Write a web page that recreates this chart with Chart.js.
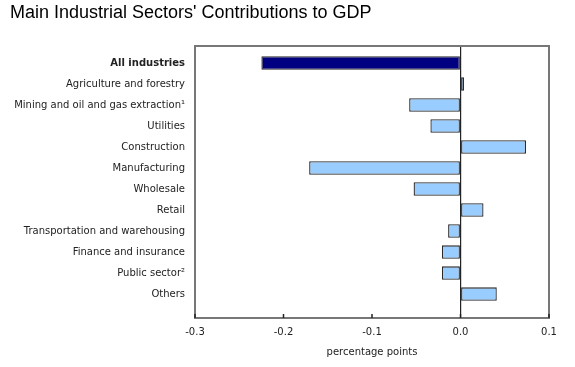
<!DOCTYPE html>
<html>
<head>
<meta charset="utf-8">
<script src="https://cdn.jsdelivr.net/npm/chart.js@4.4.1/dist/chart.umd.min.js"></script>
<style>
  html, body { margin: 0; padding: 0; background: #fff; }
  #wrap { width: 575px; height: 367px; }
</style>
</head>
<body>
<div id="wrap"><canvas id="gdpChart"></canvas></div>
<script>
const sectors = [
  "All industries",
  "Agriculture and forestry",
  "Mining and oil and gas extraction\u00B9",
  "Utilities",
  "Construction",
  "Manufacturing",
  "Wholesale",
  "Retail",
  "Transportation and warehousing",
  "Finance and insurance",
  "Public sector\u00B2",
  "Others"
];
const contributions = [-0.225, 0.004, -0.058, -0.034, 0.074, -0.171, -0.053, 0.026, -0.014, -0.021, -0.021, 0.041];
const xTicks = [-0.3, -0.2, -0.1, 0.0, 0.1];

const labelFont = "'DejaVu Sans', Verdana, sans-serif";

// frame round the plot + small inward tick marks on the bottom axis
const framePlugin = {
  id: "frame",
  afterDraw(chart) {
    const { ctx, chartArea: a } = chart;
    const x = chart.scales.x;
    ctx.save();
    ctx.strokeStyle = "#777";
    ctx.lineWidth = 2;
    ctx.strokeRect(a.left, a.top, a.right - a.left, a.bottom - a.top);
    ctx.strokeStyle = "#222";
    ctx.lineWidth = 1.5;
    xTicks.forEach(v => {
      const px = x.getPixelForValue(v);
      ctx.beginPath();
      ctx.moveTo(px, a.bottom);
      ctx.lineTo(px, a.bottom - 4);
      ctx.stroke();
    });
    ctx.restore();
  }
};

new Chart(document.getElementById("gdpChart"), {
  type: "bar",
  data: {
    datasets: [
      {
        data: contributions.map((v, i) => ({ x: v, y: i })),
        backgroundColor: sectors.map((s, i) => i === 0 ? "#000080" : "#99ccff"),
        borderColor: "#2a2a2a",
        borderWidth: 1.3,
        borderSkipped: false,
        barPercentage: 0.64,
        categoryPercentage: 1
      }
    ]
  },
  options: {
    indexAxis: "y",
    responsive: true,
    maintainAspectRatio: false,
    animation: false,
    layout: { padding: { left: 10, right: 26, top: 0, bottom: 0 } },
    plugins: {
      legend: { display: false },
      tooltip: { enabled: false },
      title: {
        display: true,
        text: "Main Industrial Sectors' Contributions to GDP",
        align: "start",
        color: "#000",
        font: { family: "'Liberation Sans', Arial, sans-serif", size: 18, weight: "normal", lineHeight: 1.2 },
        padding: { top: 2, bottom: 22.4 }
      }
    },
    scales: {
      x: {
        type: "linear",
        min: -0.3,
        max: 0.1,
        afterBuildTicks(scale) {
          scale.ticks = xTicks.map(v => ({ value: v }));
        },
        afterFit(scale) { scale.height = 49; },
        grid: {
          drawTicks: false,
          color: ctx => (ctx.tick && ctx.tick.value === 0) ? "#222" : "rgba(0,0,0,0)",
          lineWidth: 1.2
        },
        border: { display: false },
        ticks: {
          padding: 8,
          color: "#222",
          font: { family: labelFont, size: 10 },
          callback: v => v.toFixed(1)
        },
        title: {
          display: true,
          text: "percentage points",
          color: "#222",
          font: { family: labelFont, size: 10 },
          padding: { top: 3, bottom: 9 }
        }
      },
      y: {
        type: "linear",
        reverse: true,
        offset: false,
        min: -0.81,
        max: 12.14,
        afterBuildTicks(scale) {
          scale.ticks = sectors.map((s, i) => ({ value: i }));
        },
        afterFit(scale) { scale.width = 185; },
        grid: { display: false, drawTicks: false },
        border: { display: false },
        ticks: {
          padding: 10,
          color: "#222",
          callback: v => sectors[v],
          font: ctx => ({ family: labelFont, size: 10, weight: ctx.index === 0 ? "bold" : "normal" })
        }
      }
    }
  },
  plugins: [framePlugin]
});
</script>
</body>
</html>
